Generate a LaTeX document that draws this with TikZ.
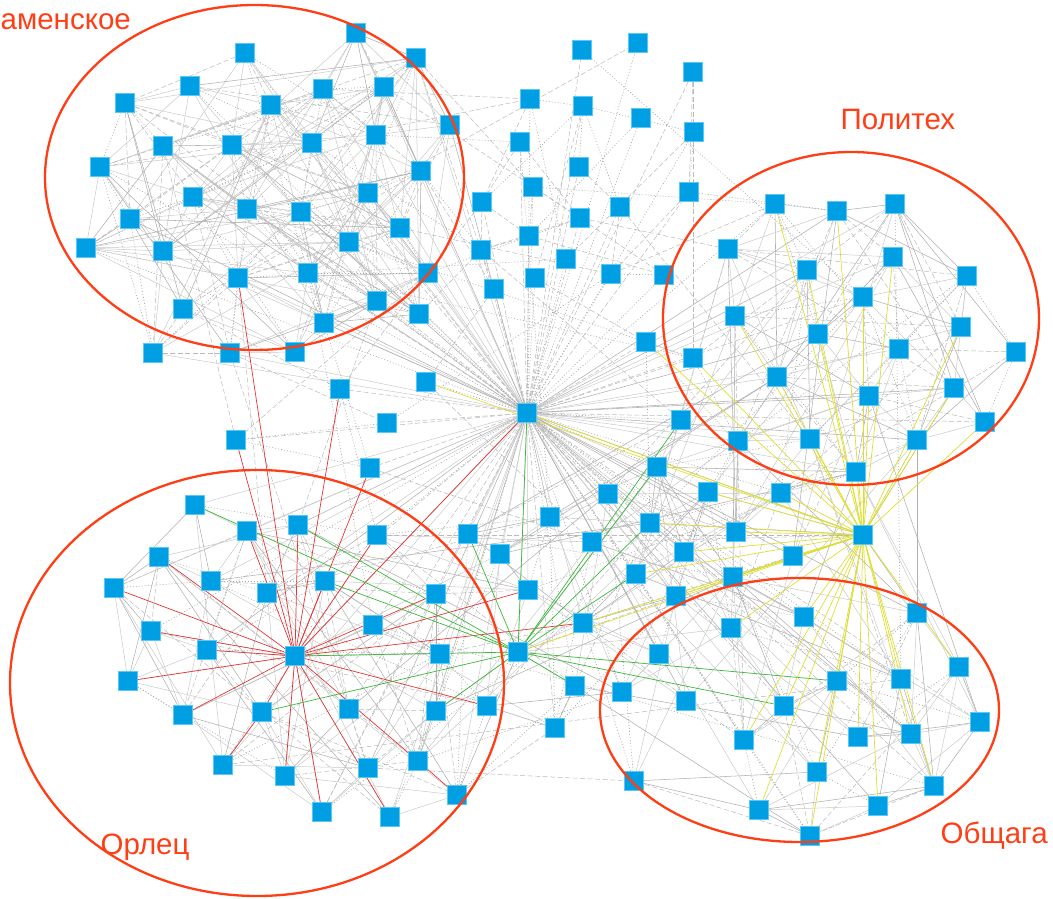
\documentclass[tikz,border=0pt]{standalone}
\usepackage{fontspec}
\setmainfont{Liberation Sans}
\pgfdeclarelayer{edges}
\pgfsetlayers{edges,main}
\definecolor{nodeblue}{RGB}{0,158,226}
\definecolor{nodeedge}{RGB}{90,200,245}
\definecolor{ringred}{RGB}{255,62,22}
\definecolor{linkred}{RGB}{228,52,52}
\definecolor{linkgreen}{RGB}{58,184,58}
\definecolor{linkyellow}{RGB}{222,222,50}

\tikzset{
  nd/.style={rectangle, fill=nodeblue, draw=nodeedge, line width=0.6pt, minimum size=19pt, inner sep=0pt},
  gsolid/.style={draw=gray!42, line width=0.5pt},
  gdark/.style={draw=gray!62, line width=0.55pt},
  gdash/.style={draw=gray!55, line width=0.5pt, dash pattern=on 5pt off 2.5pt},
  gdot/.style={draw=gray!70, line width=0.6pt, dash pattern=on 1pt off 2pt},
  redl/.style={draw=linkred, line width=0.7pt},
  greenl/.style={draw=linkgreen, line width=0.7pt},
  yell/.style={draw=linkyellow, line width=0.7pt},
  ring/.style={draw=ringred, line width=2.3pt},
  lbl/.style={text=ringred, inner sep=0pt, font=\fontsize{29.5}{34}\selectfont},
}

% node lists: name/x/y
\def\Klist{k1/356/33, k2/245/53, k3/416/58, k4/190/86, k5/323/89, k6/384/87,
  k7/125/103, k8/271/105, k9/450/125, k10/376/135, k11/163/146, k12/232/145,
  k13/312/143, k14/100/167, k15/421/171, k16/193/197, k17/247/209, k18/301/212,
  k19/368/193, k20/130/219, k21/400/228, k22/349/242, k23/86/248, k24/163/251,
  k25/428/273, k26/238/278, k27/308/273, k28/183/309, k29/377/301, k30/324/323,
  k31/419/314, k32/153/353, k33/230/353, k34/295/352}
\def\Clist{c1/582/50, c2/638/43, c3/693/72, c4/530/99, c5/583/106, c6/641/118,
  c7/694/132, c8/520/142, c9/579/167, c10/533/187, c11/482/202, c12/620/207,
  c13/689/192, c14/580/218, c15/529/236, c16/481/250, c17/566/259, c18/535/278,
  c19/494/289, c20/611/274, c21/664/275, c22/646/342, c23/693/358, c24/426/382,
  c25/340/389, c26/387/423, c27/236/440, c28/370/468, c29/681/420}
\def\Plist{p1/775/204, p2/837/211, p3/895/204, p4/728/249, p5/807/270,
  p6/893/257, p7/967/276, p8/863/297, p9/735/316, p10/818/334, p11/961/327,
  p12/1016/352, p13/899/349, p14/777/377, p15/869/396, p16/954/388,
  p17/985/422, p18/738/441, p19/810/439, p20/917/440, p21/856/472}
\def\Mlist{m1/657/467, m2/608/494, m3/708/492, m4/781/493, m5/550/517,
  m6/650/523, m7/468/534, m8/377/535, m9/592/542, m10/684/552, m11/736/532,
  m12/793/556, m13/500/554, m14/636/574, m15/733/577, m16/528/590, m17/676/596,
  m18/583/623, m19/575/686, m20/555/728, m21/622/692, m22/659/654, m23/686/701,
  G/518/652, Y/863/535}
\def\Olist{o1/195/505, o2/247/531, o3/298/525, o4/159/557, o5/114/588,
  o6/211/581, o7/267/593, o8/325/581, o9/151/631, o10/207/650, o11/128/681,
  o12/183/715, o13/262/712, o14/349/709, o15/223/765, o16/285/776, o17/322/812,
  o18/373/625, o19/436/594, o20/440/654, o21/436/711, o22/487/706, o23/368/768,
  o24/418/761, o25/457/795, o26/390/817, R/295/656}
\def\Blist{b1/731/628, b2/804/617, b3/917/613, b4/959/667, b5/837/681,
  b6/901/679, b7/784/706, b8/980/722, b9/744/740, b10/858/737, b11/911/734,
  b12/817/772, b13/934/786, b14/759/810, b15/878/806, b16/810/836, b17/634/781}

% one gray link in a random line style (styles \stlo..5)
\def\stlo{1}
\newcommand\grayline[2]{%
  \pgfmathrandominteger\st{\stlo}{5}%
  \ifcase\st\or\draw[gsolid] (#1) -- (#2);\or\draw[gsolid] (#1) -- (#2);%
  \or\draw[gdark] (#1) -- (#2);\or\draw[gdash] (#1) -- (#2);%
  \or\draw[gdot] (#1) -- (#2);\fi}
% link two nodes with a chance that falls off with distance
\newcommand\linkpair[6]{%
  \pgfmathsetmacro\dd{veclen(#5-#2,#6-#3)}%
  \pgfmathsetmacro\pp{\pbase*exp(-\dd/\lscale)}%
  \pgfmathsetmacro\rr{rnd}%
  \ifdim\rr pt<\pp pt\relax\grayline{#1}{#4}\fi}
% links inside one group
\newcommand\meshin[3]{%
  \def\pbase{#2}\def\lscale{#3}%
  \foreach \a/\ax/\ay [count=\i] in #1 {%
    \foreach \b/\bx/\by [count=\j] in #1 {%
      \ifnum\j>\i\relax\linkpair{\a}{\ax}{\ay}{\b}{\bx}{\by}\fi}}}
% links between two groups
\newcommand\meshx[4]{%
  \def\pbase{#3}\def\lscale{#4}%
  \foreach \a/\ax/\ay in #1 {%
    \foreach \b/\bx/\by in #2 {\linkpair{\a}{\ax}{\ay}{\b}{\bx}{\by}}}}
% spokes from a hub to most nodes of a group
\newcommand\starfrom[2]{%
  \foreach \b/\bx/\by in #2 {%
    \pgfmathsetmacro\rr{rnd}%
    \ifdim\rr pt<0.88pt\relax\grayline{#1}{\b}\fi}}

\begin{document}
\begin{tikzpicture}[x=1pt, y=-1pt]
\useasboundingbox (0,0) rectangle (1053,899);
\clip (0,0) rectangle (1053,899);
\pgfmathsetseed{7}

% nodes
\node[nd] (H) at (527,413) {};
\foreach \n/\x/\y in \Klist {\node[nd] (\n) at (\x,\y) {};}
\foreach \n/\x/\y in \Clist {\node[nd] (\n) at (\x,\y) {};}
\foreach \n/\x/\y in \Plist {\node[nd] (\n) at (\x,\y) {};}
\foreach \n/\x/\y in \Mlist {\node[nd] (\n) at (\x,\y) {};}
\foreach \n/\x/\y in \Olist {\node[nd] (\n) at (\x,\y) {};}
\foreach \n/\x/\y in \Blist {\node[nd] (\n) at (\x,\y) {};}

\begin{pgfonlayer}{edges}
  % gray links
  \meshin{\Klist}{1.0}{160}
  \meshin{\Olist}{1.0}{150}
  \meshin{\Plist}{1.0}{150}
  \meshin{\Blist}{1.0}{150}
  \meshin{\Mlist}{0.8}{120}
  \meshx{\Olist}{\Mlist}{0.6}{120}
  \meshx{\Mlist}{\Plist}{0.6}{120}
  \meshx{\Mlist}{\Blist}{0.6}{120}
  \meshx{\Plist}{\Blist}{0.3}{120}
  % sparse, broken links around the top centre
  \def\stlo{4}
  \meshin{\Clist}{0.5}{110}
  \meshx{\Klist}{\Clist}{0.35}{100}
  \meshx{\Klist}{\Olist}{0.3}{100}
  \meshx{\Clist}{\Plist}{0.4}{100}
  \meshx{\Clist}{\Mlist}{0.4}{100}
  \meshx{\Olist}{\Blist}{0.25}{150}
  \starfrom{H}{\Clist}
  % central hub spokes
  \def\stlo{1}
  \starfrom{H}{\Klist}
  \starfrom{H}{\Plist}
  \starfrom{H}{\Mlist}
  \starfrom{H}{\Olist}
  \starfrom{H}{\Blist}
  % coloured ego links
  \foreach \n in {o2,o3,o4,o5,o8,o9,o10,o11,o12,o13,o16,o17,o19,o22,o24,o26,
    k26,c25,c27,c28,m8,m16,m18,H}
    \draw[redl] (R) -- (\n);
  \draw[redl] (o15) -- (o13);
  \draw[redl] (o24) -- (o25);
  \foreach \n in {H,o1,R,o13,o8,o3,m7,c29,m1,m6,m14,o21,m19,b5,b7}
    \draw[greenl] (G) -- (\n);
  \foreach \n in {H,c24,G,m18,c22,c23,p1,p2,p5,p6,p8,p9,p10,p11,p14,p15,p16,
    p17,p19,p20,p21,m3,m4,m6,m10,m11,m12,m14,m15,m17,b1,b2,b4,b5,b6,b7,b9,
    b10,b11,b12,b13,b14,b15,b16}
    \draw[yell] (Y) -- (\n);
\end{pgfonlayer}

% community outlines
\draw[ring] (254.5,177.5) ellipse [x radius=209.5pt, y radius=172.5pt];
\draw[ring] (851,318.5) ellipse [x radius=188pt, y radius=166.5pt];
\draw[ring] (257,683) ellipse [x radius=247pt, y radius=213pt];
\draw[ring] (799.5,710) ellipse [x radius=199.5pt, y radius=132pt];

\node[lbl, anchor=base east] (lblK) at (131,29.3) {Каменское};
\node[lbl, anchor=base west] (lblP) at (840.5,129.5) {Политех};
\node[lbl, anchor=base west] (lblO) at (100.5,854) {Орлец};
\node[lbl, anchor=base west] (lblB) at (940.5,843) {Общага};
\end{tikzpicture}
\end{document}
